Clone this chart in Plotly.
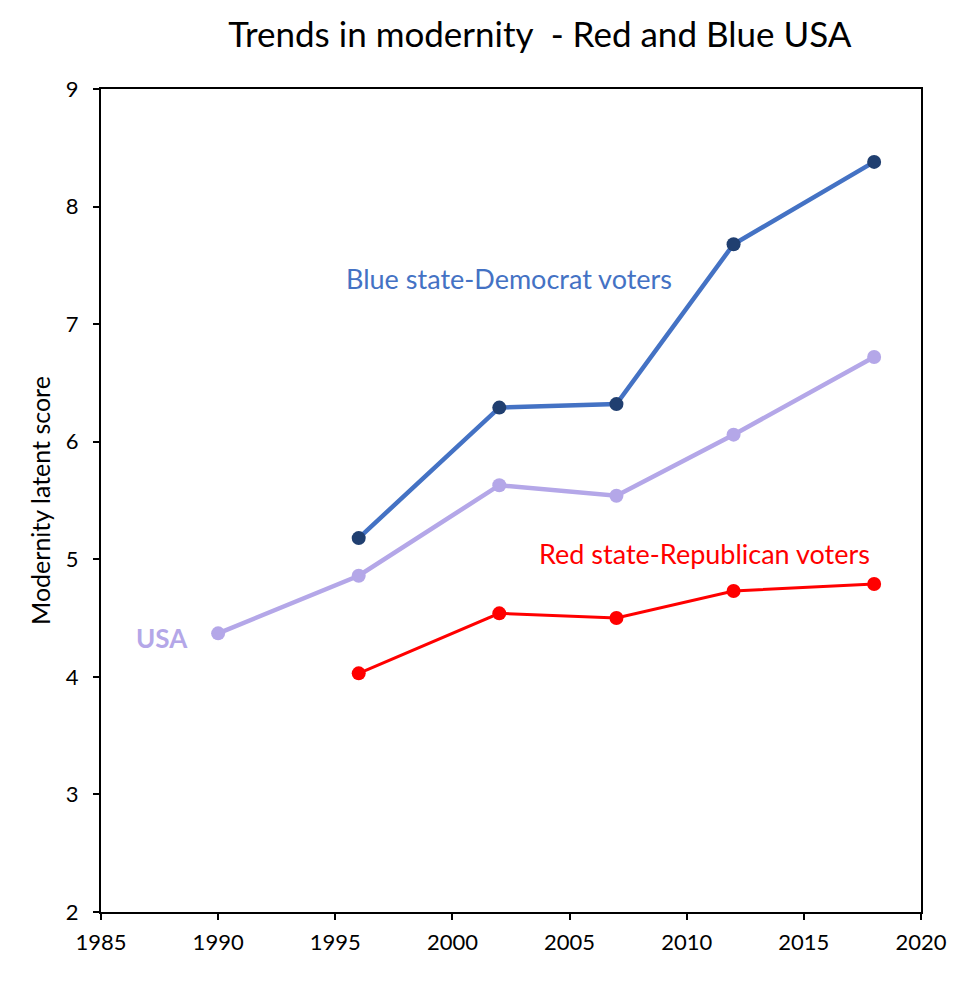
import plotly.graph_objects as go

years_blue = [1996, 2002, 2007, 2012, 2018]
blue_vals = [5.18, 6.29, 6.32, 7.68, 8.38]
years_usa = [1990, 1996, 2002, 2007, 2012, 2018]
usa_vals = [4.37, 4.86, 5.63, 5.54, 6.06, 6.72]
years_red = [1996, 2002, 2007, 2012, 2018]
red_vals = [4.03, 4.54, 4.50, 4.73, 4.79]

FONT = "Lato"

fig = go.Figure()
fig.add_trace(go.Scatter(x=years_usa, y=usa_vals, mode="lines+markers",
                         line=dict(color="#B4A7E8", width=4.5),
                         marker=dict(color="#B4A7E8", size=14)))
fig.add_trace(go.Scatter(x=years_blue, y=blue_vals, mode="lines+markers",
                         line=dict(color="#4472C4", width=4.5),
                         marker=dict(color="#203F70", size=14)))
fig.add_trace(go.Scatter(x=years_red, y=red_vals, mode="lines+markers",
                         line=dict(color="#FF0000", width=3),
                         marker=dict(color="#FF0000", size=14)))

fig.add_annotation(x=2002.4, y=7.39, text="Blue state-Democrat voters", showarrow=False,
                   font=dict(family=FONT, size=27, color="#4472C4"))
fig.add_annotation(x=2010.78, y=5.05, text="Red state-Republican voters", showarrow=False,
                   font=dict(family=FONT, size=27, color="#FF0000"))
fig.add_annotation(x=1987.6, y=4.33, text="<b>USA</b>", showarrow=False,
                   font=dict(family=FONT, size=26, color="#B4A7E8"))

fig.update_layout(
    width=974, height=985,
    margin=dict(l=93, r=61, t=81, b=81),
    paper_bgcolor="white", plot_bgcolor="white",
    showlegend=False,
    font=dict(family=FONT, color="black"),
    title=dict(text="Trends in modernity  - Red and Blue USA", x=0.546, xanchor="center",
               y=0.973, yanchor="middle", font=dict(family=FONT, size=35, color="black")),
)
fig.update_xaxes(range=[1985, 2020], tick0=1985, dtick=5, showgrid=False, zeroline=False,
                 showline=True, linecolor="black", linewidth=2, mirror=True,
                 ticks="outside", ticklen=6, tickcolor="black", tickwidth=2,
                 ticklabelstandoff=4,
                 tickfont=dict(family=FONT, size=22, color="black"))
fig.update_yaxes(range=[2, 9], dtick=1, showgrid=False, zeroline=False,
                 showline=True, linecolor="black", linewidth=2, mirror=True,
                 ticks="outside", ticklen=6, tickcolor="black", tickwidth=2,
                 ticklabelstandoff=10,
                 tickfont=dict(family=FONT, size=22, color="black"),
                 title=dict(text="Modernity latent score", font=dict(family=FONT, size=25, color="black"),
                            standoff=8))

fig.write_html("out.html")
